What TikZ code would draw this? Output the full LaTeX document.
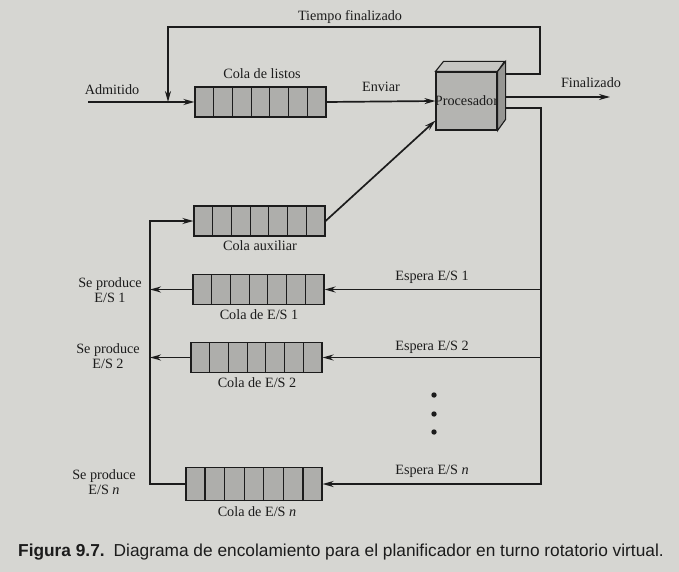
\documentclass[tikz,border=0pt]{standalone}
\usepackage{fontspec}
\setmainfont{Liberation Serif}
\newfontfamily\capfont{Liberation Sans}
\usetikzlibrary{calc,arrows.meta}
\definecolor{paper}{RGB}{214,214,210}
\definecolor{cellgray}{RGB}{174,174,171}
\definecolor{facegray}{RGB}{180,180,177}
\definecolor{topgray}{RGB}{198,198,195}
\definecolor{sidegray}{RGB}{150,150,147}
\definecolor{ink}{RGB}{28,28,28}
\tikzset{
  qbox/.style={draw=ink, line width=1.1pt, fill=cellgray, minimum width=131pt, minimum height=30pt, inner sep=0pt},
  arr/.style={draw=ink, line width=1.7pt, -{Stealth[length=11pt,width=6pt]}},
  wire/.style={draw=ink, line width=1.7pt},
  lbl/.style={font=\fontsize{14.2}{15}\selectfont, text=ink, inner sep=0pt, align=center},
}
% draw the six inner dividers of a seven-cell queue
\newcommand{\qcells}[1]{%
  \foreach \i in {1,...,6}
    \draw[ink, line width=1.1pt] ($(#1.south west)!\i/7!(#1.south east)$) -- ($(#1.north west)!\i/7!(#1.north east)$);}
\begin{document}
\begin{tikzpicture}[x=1pt,y=-1pt]
\fill[paper] (0,0) rectangle (679,572);
\useasboundingbox (0,0) rectangle (679,572);

% queues
\node[qbox] (listos) at (260.5,102) {};
\node[qbox] (aux) at (259.5,221) {};
\node[qbox] (io1) at (258.5,289.5) {};
\node[qbox] (io2) at (256.5,357.5) {};
\node[qbox, minimum width=136pt, minimum height=33pt] (ion) at (254,484) {};
\qcells{listos}\qcells{aux}\qcells{io1}\qcells{io2}\qcells{ion}

% processor block with its top and side faces
\node[draw=ink, line width=1.1pt, fill=facegray, minimum width=61pt, minimum height=58pt, inner sep=0pt] (proc) at (466.5,101) {};
\fill[topgray, draw=ink, line width=1.1pt] (proc.north west) -- ++(8,-10) -- ++(61,0) -- (proc.north east) -- cycle;
\fill[sidegray, draw=ink, line width=1.1pt] (proc.north east) -- ++(8,-10) -- ++(0,58) -- (proc.south east) -- cycle;
\node[lbl] at (proc.center) {Procesador};

% labels
\node[lbl] at (350,17) {Tiempo finalizado};
\node[lbl] at (112,90) {Admitido};
\node[lbl] at (262,74) {Cola de listos};
\node[lbl] at (381,87) {Enviar};
\node[lbl] at (591,83) {Finalizado};
\node[lbl] at (260,246) {Cola auxiliar};
\node[lbl] at (259,315) {Cola de E/S 1};
\node[lbl] at (257,383) {Cola de E/S 2};
\node[lbl] at (257,512) {Cola de E/S \textit{n}};
\node[lbl] at (110,290) {Se produce\\E/S 1};
\node[lbl] at (108,356) {Se produce\\E/S 2};
\node[lbl] at (104,482) {Se produce\\E/S \textit{n}};
\node[lbl] at (432,277) {Espera E/S 1};
\node[lbl] at (432,347) {Espera E/S 2};
\node[lbl] at (432,471) {Espera E/S \textit{n}};
\foreach \yy in {395,414,432} \fill[ink] (434,\yy) circle (2.7pt);

% connectors
\coordinate (adm) at (88,102);
\coordinate (join) at (168,102);
\coordinate (tq) at (505,74);
\coordinate (fq) at (505,97);
\coordinate (rq) at (505,108);
\coordinate (fin) at (610,97);
\coordinate (tout) at (540,27);
\coordinate (rbot) at (541,484);
\coordinate (lbot) at (150,484);

\draw[arr] (adm) -- (listos.west);
\draw[arr] (tq) -| (tout) -| (join);
\draw[arr] (listos.east) -- (proc.west);
\draw[arr] (fq) -- (fin);
\draw[arr] (aux.east) -- ($(proc.south west)+(0,-10)$);
\draw[arr] (rq) -| (rbot) -- (ion.east);
\draw[arr] (rq -| rbot) |- (io1.east);
\draw[arr] (rq -| rbot) |- (io2.east);
\draw[arr] (ion.west) -- (lbot) |- (aux.west);
\draw[arr] (io1.west) -- (io1.west -| lbot);
\draw[arr] (io2.west) -- (io2.west -| lbot);

% caption
\node[anchor=base west, inner sep=0pt, text=ink] at (18,556)
  {\capfont\fontsize{17.3}{18}\selectfont\textbf{Figura 9.7.}\hspace{9pt}Diagrama de encolamiento para el planificador en turno rotatorio virtual.};
\end{tikzpicture}
\end{document}
